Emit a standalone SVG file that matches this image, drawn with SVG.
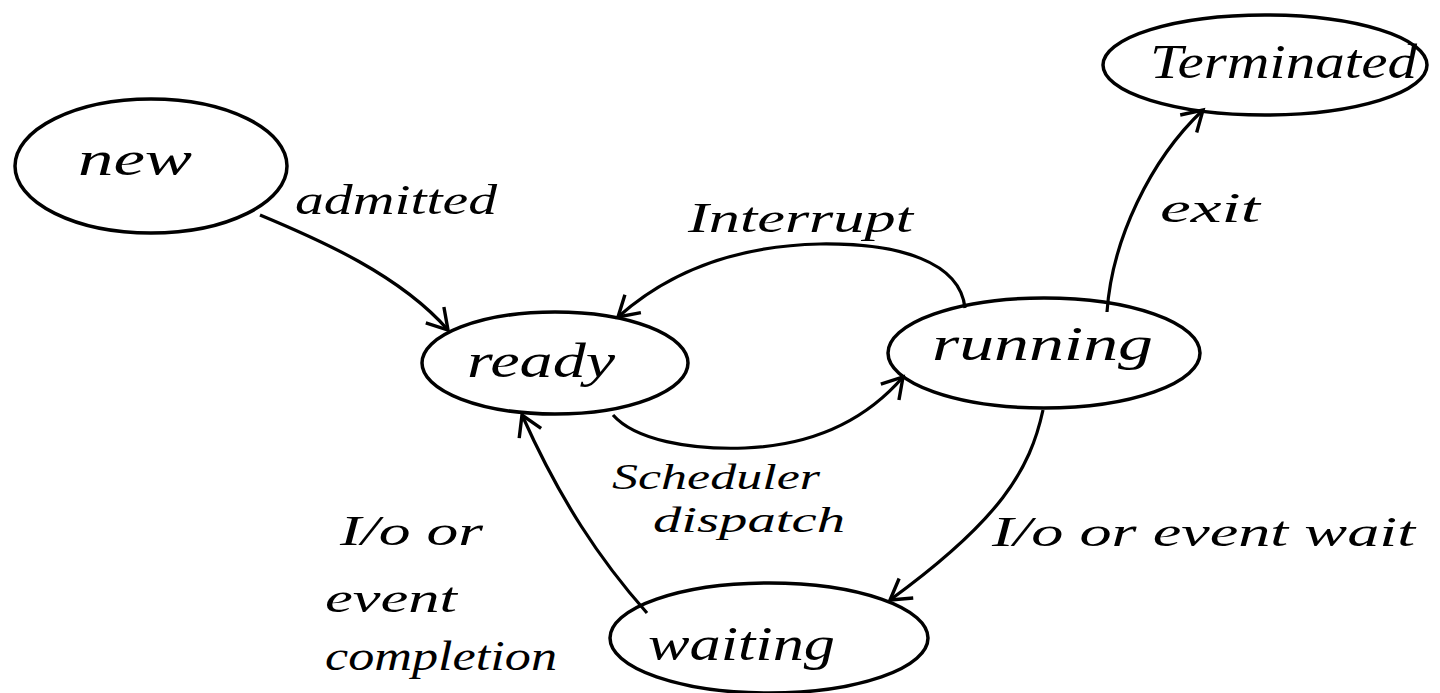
<svg xmlns="http://www.w3.org/2000/svg" width="1440" height="693" viewBox="0 0 1440 693">
<style>
.node ellipse{fill:none;stroke:#000;stroke-width:3.5}
.lbl{font-family:"Liberation Serif","DejaVu Serif",serif;font-style:italic;fill:#000}
.nt{font-size:48px}
.et{font-size:42px}
.st{font-size:36px}
.conn path{fill:none;stroke:#000;stroke-width:3.2}
</style>
<defs>
<marker id="arr" markerUnits="userSpaceOnUse" markerWidth="40" markerHeight="40" refX="0" refY="0" viewBox="-30 -20 40 40" orient="auto" overflow="visible">
<path d="M -20 -12 L 0 0 L -20 12" fill="none" stroke="#000" stroke-width="3.4"/>
</marker>
</defs>
<rect width="1440" height="693" fill="#fff"/>

<g id="node-new" class="node">
<ellipse cx="151" cy="166" rx="136" ry="67"/>
<text class="lbl nt" x="78" y="175" textLength="114" lengthAdjust="spacingAndGlyphs">new</text>
</g>
<g id="node-ready" class="node">
<ellipse cx="555" cy="363" rx="133" ry="51"/>
<text class="lbl nt" x="467" y="377" textLength="148" lengthAdjust="spacingAndGlyphs">ready</text>
</g>
<g id="node-running" class="node">
<ellipse cx="1044" cy="353" rx="156" ry="55"/>
<text class="lbl nt" x="932" y="360" textLength="221" lengthAdjust="spacingAndGlyphs">running</text>
</g>
<g id="node-terminated" class="node">
<ellipse cx="1265" cy="65" rx="162" ry="50"/>
<text class="lbl nt" x="1150" y="78" textLength="267" lengthAdjust="spacingAndGlyphs">Terminated</text>
</g>
<g id="node-waiting" class="node">
<ellipse cx="769" cy="638" rx="159" ry="55"/>
<text class="lbl nt" x="648" y="660" textLength="187" lengthAdjust="spacingAndGlyphs">waiting</text>
</g>

<g id="connectors" class="conn">
<path marker-end="url(#arr)" d="M 260 215 C 320 240, 400 275, 448 330"/>
<path marker-end="url(#arr)" d="M 965 308 C 960 262, 900 243, 820 244 C 730 246, 665 275, 618 317"/>
<path marker-end="url(#arr)" d="M 613 415 C 635 440, 690 450, 745 448 C 820 445, 870 415, 903 377"/>
<path marker-end="url(#arr)" d="M 1107 312 C 1112 240, 1150 160, 1203 110"/>
<path marker-end="url(#arr)" d="M 1043 410 C 1030 470, 1000 520, 890 600"/>
<path marker-end="url(#arr)" d="M 647 613 C 600 560, 560 500, 522 415"/>
</g>

<g id="labels">
<text class="lbl et" x="295" y="214" textLength="202" lengthAdjust="spacingAndGlyphs">admitted</text>
<text class="lbl et" x="688" y="232" textLength="225" lengthAdjust="spacingAndGlyphs">Interrupt</text>
<text class="lbl et" x="1160" y="222" textLength="100" lengthAdjust="spacingAndGlyphs">exit</text>
<text class="lbl st" x="612" y="489" textLength="208" lengthAdjust="spacingAndGlyphs">Scheduler</text>
<text class="lbl st" x="653" y="532" textLength="192" lengthAdjust="spacingAndGlyphs">dispatch</text>
<text class="lbl et" x="992" y="546" textLength="423" lengthAdjust="spacingAndGlyphs">I/o or event wait</text>
<text class="lbl et" x="340" y="545" textLength="143" lengthAdjust="spacingAndGlyphs">I/o or</text>
<text class="lbl et" x="325" y="612" textLength="132" lengthAdjust="spacingAndGlyphs">event</text>
<text class="lbl et" x="325" y="670" textLength="232" lengthAdjust="spacingAndGlyphs">completion</text>
</g>
</svg>
